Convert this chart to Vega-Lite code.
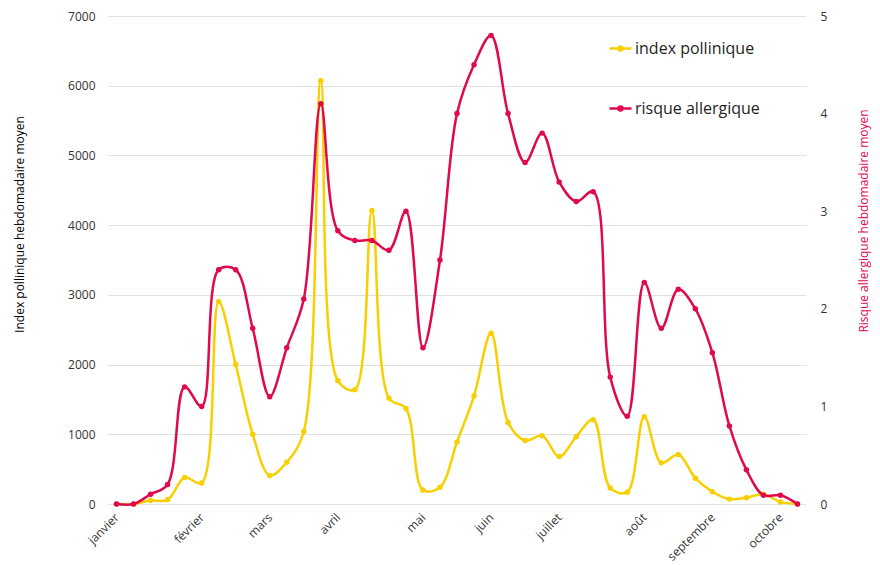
{
  "$schema": "https://vega.github.io/schema/vega-lite/v6.json",
  "autosize": "none",
  "width": 698,
  "height": 488,
  "padding": {"left": 108, "top": 16, "right": 74, "bottom": 61},
  "background": "white",
  "config": {
    "font": "Open Sans",
    "view": {"stroke": null},
    "axis": {"labelFont": "Open Sans", "titleFont": "Open Sans", "labelColor": "#333333", "labelFontSize": 12}
  },
  "data": {
    "values": [
      {"week": 0, "pollen": 0, "risque": 0},
      {"week": 1, "pollen": 0, "risque": 0},
      {"week": 2, "pollen": 50, "risque": 0.1},
      {"week": 3, "pollen": 60, "risque": 0.2},
      {"week": 4, "pollen": 380, "risque": 1.2},
      {"week": 5, "pollen": 300, "risque": 1.0},
      {"week": 6, "pollen": 2900, "risque": 2.4},
      {"week": 7, "pollen": 2000, "risque": 2.4},
      {"week": 8, "pollen": 1000, "risque": 1.8},
      {"week": 9, "pollen": 410, "risque": 1.1},
      {"week": 10, "pollen": 600, "risque": 1.6},
      {"week": 11, "pollen": 1040, "risque": 2.1},
      {"week": 12, "pollen": 6070, "risque": 4.1},
      {"week": 13, "pollen": 1770, "risque": 2.8},
      {"week": 14, "pollen": 1640, "risque": 2.7},
      {"week": 15, "pollen": 4210, "risque": 2.7},
      {"week": 16, "pollen": 1520, "risque": 2.6},
      {"week": 17, "pollen": 1370, "risque": 3.0},
      {"week": 18, "pollen": 200, "risque": 1.6},
      {"week": 19, "pollen": 240, "risque": 2.5},
      {"week": 20, "pollen": 890, "risque": 4.0},
      {"week": 21, "pollen": 1550, "risque": 4.5},
      {"week": 22, "pollen": 2450, "risque": 4.8},
      {"week": 23, "pollen": 1170, "risque": 4.0},
      {"week": 24, "pollen": 910, "risque": 3.5},
      {"week": 25, "pollen": 980, "risque": 3.8},
      {"week": 26, "pollen": 680, "risque": 3.3},
      {"week": 27, "pollen": 965, "risque": 3.1},
      {"week": 28, "pollen": 1210, "risque": 3.2},
      {"week": 29, "pollen": 230, "risque": 1.3},
      {"week": 30, "pollen": 170, "risque": 0.9},
      {"week": 31, "pollen": 1250, "risque": 2.27},
      {"week": 32, "pollen": 590, "risque": 1.8},
      {"week": 33, "pollen": 710, "risque": 2.2},
      {"week": 34, "pollen": 370, "risque": 2.0},
      {"week": 35, "pollen": 175, "risque": 1.55},
      {"week": 36, "pollen": 70, "risque": 0.8},
      {"week": 37, "pollen": 90, "risque": 0.35},
      {"week": 38, "pollen": 140, "risque": 0.09},
      {"week": 39, "pollen": 30, "risque": 0.09},
      {"week": 40, "pollen": 0, "risque": 0}
    ]
  },
  "encoding": {
    "x": {
      "field": "week",
      "type": "quantitative",
      "scale": {"domain": [-0.5, 40.5], "nice": false, "zero": false},
      "axis": {
        "title": null,
        "values": [0, 5, 9, 13, 18, 22, 26, 31, 35, 39],
        "labelExpr": "['janvier','février','mars','avril','mai','juin','juillet','août','septembre','octobre'][indexof([0,5,9,13,18,22,26,31,35,39], datum.value)]",
        "labelAngle": -45,
        "labelAlign": "right",
        "labelBaseline": "middle",
        "labelOverlap": false,
        "labelBound": false,
        "grid": false,
        "domain": false,
        "ticks": false,
        "tickSize": 0,
        "labelPadding": 11,
        "labelFontSize": 12,
        "labelColor": "#333333"
      }
    }
  },
  "layer": [
    {
      "mark": {"type": "line", "interpolate": "catmull-rom", "strokeWidth": 2.5, "point": {"filled": true, "size": 30}},
      "encoding": {
        "y": {
          "field": "pollen",
          "type": "quantitative",
          "scale": {"domain": [0, 7000], "nice": false},
          "axis": {
            "title": "Index pollinique hebdomadaire moyen",
            "titleX": -89,
            "titleY": 208,
            "titleAngle": -90,
            "titleAlign": "center",
            "titleBaseline": "middle",
            "titleFontSize": 12,
            "titleFontWeight": "normal",
            "titleColor": "#000000",
            "values": [0, 1000, 2000, 3000, 4000, 5000, 6000, 7000],
            "format": "d",
            "grid": true,
            "gridColor": "#e1e1e1",
            "domain": false,
            "ticks": false,
            "tickSize": 0,
            "labelPadding": 13
          }
        },
        "color": {
          "datum": "index pollinique",
          "type": "nominal",
          "scale": {"domain": ["index pollinique", "risque allergique"], "range": ["#F8CF00", "#E0094E"]},
          "legend": {
            "title": null,
            "orient": "none",
            "legendX": 500,
            "legendY": 20,
            "labelFontSize": 16,
            "labelColor": "#252423",
            "labelFont": "Open Sans",
            "symbolType": "M-1,0H1M-0.18,0a0.18,0.18 0 1,0 0.36,0a0.18,0.18 0 1,0 -0.36,0",
            "symbolSize": 484,
            "symbolStrokeWidth": 2.5,
            "rowPadding": 39,
            "labelOffset": 2
          }
        }
      }
    },
    {
      "mark": {"type": "line", "interpolate": "catmull-rom", "strokeWidth": 2.5, "point": {"filled": true, "size": 30}},
      "encoding": {
        "y": {
          "field": "risque",
          "type": "quantitative",
          "scale": {"domain": [0, 5], "nice": false},
          "axis": {
            "orient": "right",
            "title": "Risque allergique hebdomadaire moyen",
            "titleX": 57,
            "titleY": 204.5,
            "titleAngle": -90,
            "titleAlign": "center",
            "titleBaseline": "middle",
            "titleFontSize": 12,
            "titleFontWeight": "normal",
            "titleColor": "#E0094E",
            "values": [0, 1, 2, 3, 4, 5],
            "format": "d",
            "grid": false,
            "domain": false,
            "ticks": false,
            "tickSize": 0,
            "labelPadding": 14
          }
        },
        "color": {"datum": "risque allergique", "type": "nominal"}
      }
    }
  ],
  "resolve": {"scale": {"y": "independent"}}
}
